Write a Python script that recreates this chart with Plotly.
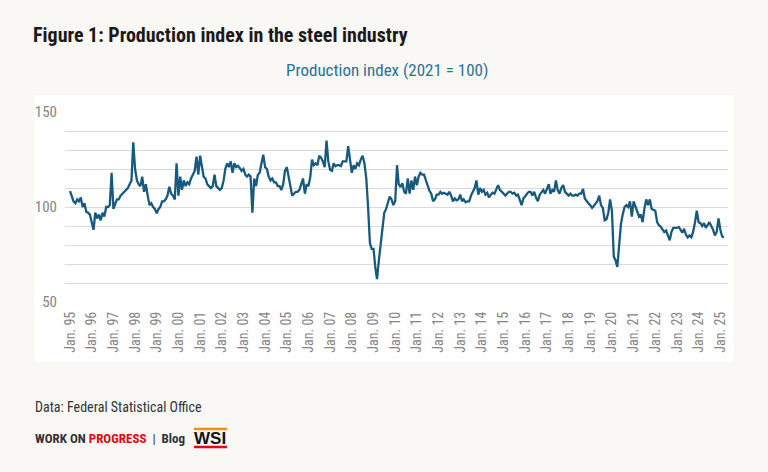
import pandas as pd
import plotly.graph_objects as go

# Monthly production index (2021 = 100), Jan 1995 .. Mar 2025
y1995_1999 = [108.4, 106, 103, 102, 104, 103, 105, 100, 102, 97.5, 97, 96,
              91, 88, 97, 94, 96, 93, 97, 95, 100, 100, 101, 118,
              99, 102, 104, 104, 106, 107, 108, 109, 110, 112, 114, 134,
              120, 114, 112, 111, 116, 108, 112, 106, 101, 102, 100, 99,
              96.7, 99, 100, 103, 103, 104, 106, 110.7, 107, 106, 104, 123]
y2000_2004 = [106, 116, 109, 114, 111, 113, 112, 115, 117, 119, 126.5, 117,
              127, 120, 116, 115, 112, 111, 110, 111, 117, 111, 110, 109,
              110, 114, 120, 123, 121, 124, 118, 123, 121, 121.7, 120.5, 119,
              120, 117, 116, 117, 116, 97, 115, 111, 117, 118, 123, 127.5,
              121, 120, 116, 114, 115, 113, 113, 111, 111, 109, 112, 119]
y2005_2009 = [121, 116, 113, 106, 107, 108, 108, 109, 112, 115, 107, 112,
              111, 116, 125, 122, 123, 122, 127, 126, 124, 121, 135, 124,
              119.5, 119, 123, 121.5, 122, 122, 121.5, 124, 124, 124, 132, 126,
              118, 122, 120, 123, 122, 125, 127, 123, 115, 100, 81, 78,
              78, 68, 62, 72, 80, 88, 97, 99, 103, 105.5, 104, 101]
y2010_2014 = [103, 122, 112, 110.5, 112.5, 108, 107, 115, 107, 114, 109, 116,
              111.5, 116, 118, 117, 117, 114, 111, 108.5, 107, 103, 104, 106.5,
              106.5, 108, 107, 107.5, 107, 106.5, 108, 106, 103, 104.5, 103.5, 104,
              106.5, 103, 104, 102.5, 103, 103, 106, 108, 110, 114, 106.5, 110,
              108, 109, 106.5, 107.5, 105, 106.5, 107.5, 107, 109, 111.5, 109, 108]
y2015_2019 = [107, 106, 107, 108, 108, 107, 107.5, 106, 106.5, 104, 101, 104.5,
              106, 107, 108, 108, 106, 108, 105, 103, 106.5, 108, 109, 107,
              110, 112, 107, 109, 108, 114, 109, 107, 110, 111.5, 108, 107,
              106, 107, 106, 106, 106.5, 106, 107, 107, 109.5, 104.5, 103, 102,
              101, 99.5, 100.5, 102, 103, 106, 101, 99.5, 93, 93.5, 97, 104]
y2020_2025 = [98, 74, 72, 68.5, 79, 91, 96, 100, 101, 100, 103, 95,
              103, 100.5, 97.5, 95, 96, 92, 99, 104, 101, 104, 99, 98.5,
              98, 92, 90.5, 89.7, 88, 86.8, 87.6, 84.5, 82.5, 87, 89, 89,
              89, 89.5, 88, 86.5, 88.5, 85.5, 84, 85, 84, 87, 92, 98,
              92, 91.5, 90, 91.5, 89, 90.5, 92, 90, 88, 85, 87, 94,
              88, 84.5, 84]

values = y1995_1999 + y2000_2004 + y2005_2009 + y2010_2014 + y2015_2019 + y2020_2025
dates = pd.date_range("1995-01-01", periods=len(values), freq="MS")

tick_years = list(range(1995, 2026))
tick_vals = [pd.Timestamp(f"{y}-01-01") for y in tick_years]
tick_text = [f"Jan. {str(y)[2:]}" for y in tick_years]

y_grid = list(range(50, 151, 10))
y_text = [str(v) if v in (50, 100, 150) else "" for v in y_grid]

title_text = "Figure 1: Production index in the steel industry"
subtitle_text = "Production index (2021 = 100)"
source_text = "Data: Federal Statistical Office"

# plot-area pixel geometry for placing texts
L, R, T, B = 65, 40, 112, 170
W, H = 768, 472
PW, PH = W - L - R, H - T - B


def px(x):
    return (x - L) / PW


def py(y):
    return (H - B - y) / PH


NARROW = "Liberation Sans Narrow, Roboto Condensed, DejaVu Sans Condensed, sans-serif"

fig = go.Figure()
fig.add_trace(go.Scatter(x=dates, y=values, mode="lines",
                         line=dict(color="#185a7d", width=2.3),
                         hoverinfo="skip", showlegend=False))

fig.update_layout(
    width=W, height=H,
    margin=dict(l=L, r=R, t=T, b=B),
    paper_bgcolor="#f9f8f5",
    plot_bgcolor="rgba(0,0,0,0)",
    title=dict(text=f"<b>{title_text}</b>", x=33 / W, xanchor="left", xref="container",
               y=1 - 35 / H, yanchor="middle", yref="container",
               font=dict(family=NARROW, size=20, color="#1a1a1a")),
    xaxis=dict(range=[pd.Timestamp("1994-10-08"), pd.Timestamp("2025-05-10")],
               tickvals=tick_vals, ticktext=tick_text, tickangle=-90,
               showgrid=False, zeroline=False, showline=False, ticks="",
               ticklabelstandoff=6,
               tickfont=dict(family=NARROW, size=14, color="#858585")),
    yaxis=dict(range=[50, 150], tickvals=y_grid, ticktext=y_text,
               showgrid=True, gridcolor="#dadada", gridwidth=1,
               zeroline=False, showline=False, ticks="",
               ticklabelstandoff=7,
               tickfont=dict(family=NARROW, size=15, color="#858585")),
    annotations=[
        dict(text=subtitle_text, x=px(387), y=py(70), xref="paper", yref="paper",
             showarrow=False, xanchor="center", yanchor="middle",
             font=dict(family=NARROW, size=17, color="#2b7196")),
        dict(text=source_text, x=px(33), y=py(407), xref="paper", yref="paper",
             showarrow=False, xanchor="left", yanchor="middle",
             font=dict(family=NARROW, size=14, color="#333333")),
        dict(text="<b>WORK ON <span style='color:#e30613'>PROGRESS</span></b>  |  <b>Blog</b>",
             x=px(33), y=py(438), xref="paper", yref="paper",
             showarrow=False, xanchor="left", yanchor="middle",
             font=dict(family=NARROW, size=13, color="#333333")),
        dict(text="<b>WSI</b>", x=px(210), y=py(438), xref="paper", yref="paper",
             showarrow=False, xanchor="center", yanchor="middle",
             font=dict(family="Liberation Sans, Arial, sans-serif", size=17, color="#111111")),
    ],
    shapes=[
        dict(type="rect", xref="paper", yref="paper", layer="below",
             x0=px(34), x1=px(734), y0=py(362), y1=py(95),
             fillcolor="#ffffff", line=dict(width=0)),
        dict(type="line", xref="paper", yref="paper", x0=px(194), x1=px(227),
             y0=py(429), y1=py(429), line=dict(color="#f39200", width=2.5)),
        dict(type="line", xref="paper", yref="paper", x0=px(194), x1=px(227),
             y0=py(447), y1=py(447), line=dict(color="#e30613", width=2.5)),
    ],
)

fig.write_html("out.html")
